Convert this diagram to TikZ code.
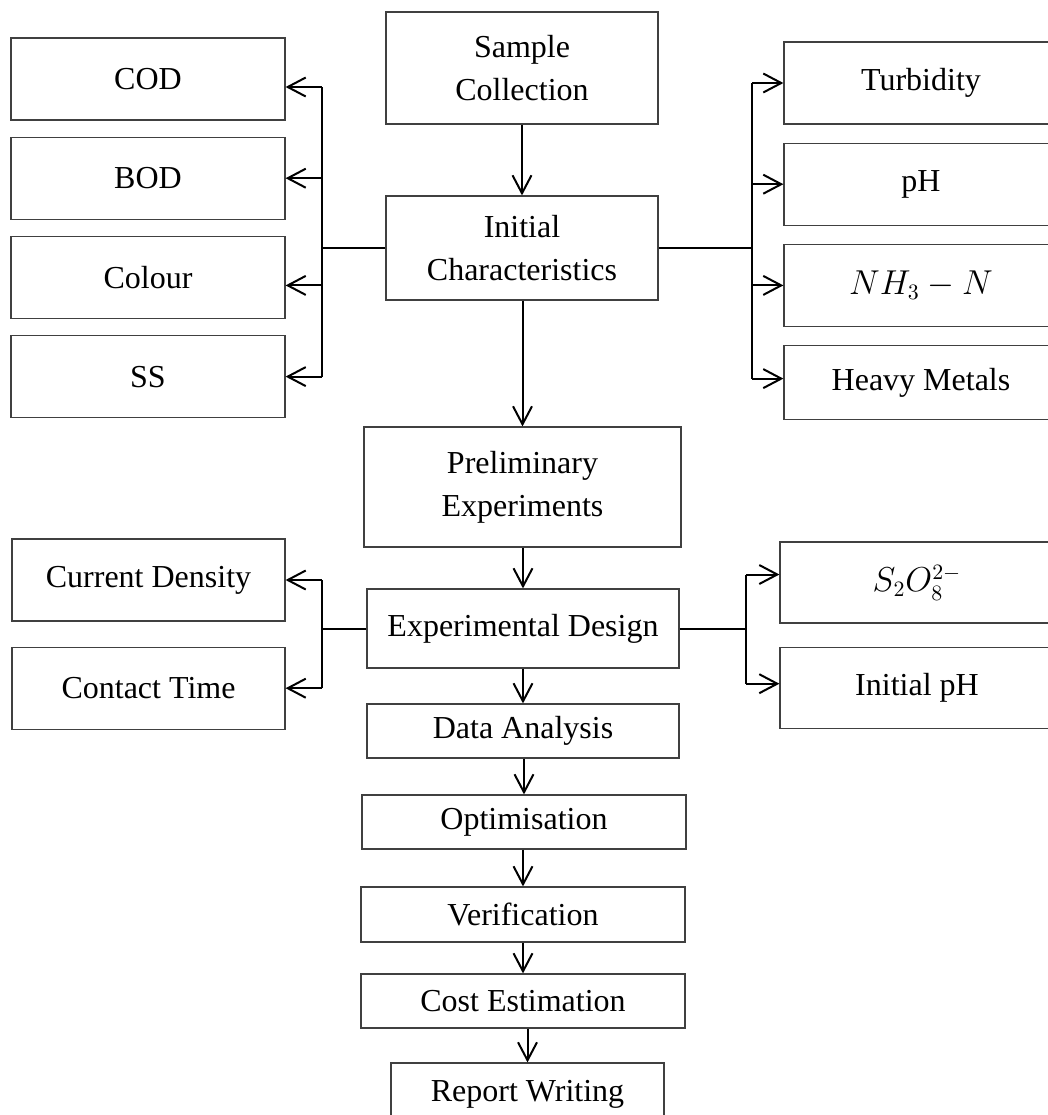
\documentclass[tikz,border=0pt]{standalone}
\usepackage{fontspec}
\setmainfont{Liberation Serif}
\usetikzlibrary{arrows.meta, positioning}

\begin{document}
\begin{tikzpicture}[
    x=0.5pt, y=-0.5pt,
    every node/.style={draw=black!75, line width=0.6pt, inner sep=0pt, align=center, font=\fontsize{16}{21.5}\selectfont},
    conn/.style={line width=1pt, black},
    arr/.style={conn, -{Straight Barb[length=9pt, width=9.5pt]}}
]
\useasboundingbox (0,0) rectangle (1048,1115);

% Main column
\node[minimum width=136pt, minimum height=56pt] (sc) at (522, 68) {Sample\\Collection};
\node[minimum width=136pt, minimum height=52pt] (ic) at (522, 248) {Initial\\Characteristics};
\node[minimum width=158.5pt, minimum height=60pt] (pe) at (522.5, 487) {Preliminary\\Experiments};
\node[minimum width=156pt, minimum height=39.5pt] (ed) at (523, 628.5) {Experimental Design};
\node[minimum width=156pt, minimum height=27pt] (da) at (523, 731) {Data Analysis};
\node[minimum width=162pt, minimum height=27pt] (op) at (524, 822) {Optimisation};
\node[minimum width=162pt, minimum height=27.5pt] (ve) at (523, 914.5) {Verification};
\node[minimum width=162pt, minimum height=27pt] (ce) at (523, 1001) {Cost Estimation};
\node[minimum width=136.5pt, minimum height=31pt] (rw) at (527.5, 1094) {Report Writing};

% Left parameters (initial)
\node[minimum width=137pt, minimum height=41pt] (cod) at (148, 79) {COD};
\node[minimum width=137pt, minimum height=41pt, below=8pt of cod] (bod) {BOD};
\node[minimum width=137pt, minimum height=41pt, below=8pt of bod] (col) {Colour};
\node[minimum width=137pt, minimum height=41pt, below=8pt of col] (ss) {SS};

% Right parameters (initial)
\node[minimum width=137pt, minimum height=41pt] (tur) at (921, 83) {Turbidity};
\node[minimum width=137pt, minimum height=41pt, below=9pt of tur] (ph) {pH};
\node[minimum width=137pt, minimum height=41pt, below=9pt of ph] (nh) {$NH_3 - N$};
\node[minimum width=137pt, minimum height=37pt, below=9pt of nh] (hm) {Heavy Metals};

% Design factors
\node[minimum width=136.5pt, minimum height=41pt] (cd) at (148.5, 580) {Current Density};
\node[minimum width=136.5pt, minimum height=41pt, below=12.5pt of cd] (ct) {Contact Time};
\node[minimum width=137pt, minimum height=40.5pt] (so) at (917, 582.5) {$S_2O_8^{2-}$};
\node[minimum width=137pt, minimum height=40.5pt, below=11.5pt of so] (ip) {Initial pH};

% Bus positions
\coordinate (lbus) at (322, 0);
\coordinate (rbus) at (752, 0);
\coordinate (rbus2) at (746, 0);

% Down arrows
\foreach \a/\b in {sc/ic, ic/pe, pe/ed, ed/da, da/op, op/ve, ve/ce, ce/rw}
    \draw[arr] (\b.north |- \a.south) -- (\b.north);

% Initial characteristics - left
\draw[conn] (ic.west) -- (ic.west -| lbus);
\draw[conn] ([yshift=-4pt]cod.east -| lbus) -- (ss.east -| lbus);
\foreach \n/\s in {cod/-4pt, bod/0pt, col/-4pt, ss/0pt}
    \draw[arr] ([yshift=\s]\n.east -| lbus) -- ([yshift=\s]\n.east);

% Initial characteristics - right
\draw[conn] (ic.east) -- (ic.east -| rbus);
\draw[conn] (tur.west -| rbus) -- ([yshift=2pt]hm.west -| rbus);
\foreach \n/\s in {tur/0pt, ph/0pt, nh/0pt, hm/2pt}
    \draw[arr] ([yshift=\s]\n.west -| rbus) -- ([yshift=\s]\n.west);

% Experimental design - left
\draw[conn] (ed.west) -- (ed.west -| lbus);
\draw[conn] (cd.east -| lbus) -- (ct.east -| lbus);
\foreach \n in {cd, ct}
    \draw[arr] (\n.east -| lbus) -- (\n.east);

% Experimental design - right
\draw[conn] (ed.east) -- (ed.east -| rbus2);
\draw[conn] ([yshift=4pt]so.west -| rbus2) -- ([yshift=2pt]ip.west -| rbus2);
\foreach \n/\s in {so/4pt, ip/2pt}
    \draw[arr] ([yshift=\s]\n.west -| rbus2) -- ([yshift=\s]\n.west);

\end{tikzpicture}
\end{document}
